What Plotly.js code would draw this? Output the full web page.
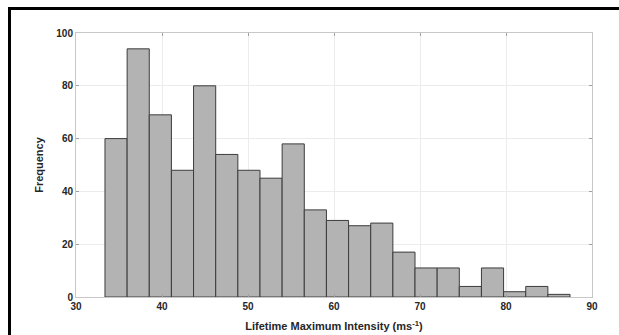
<!DOCTYPE html>
<html>
<head>
<meta charset="utf-8">
<script src="https://cdn.plot.ly/plotly-3.0.1.min.js"></script>
<style>
html,body{margin:0;padding:0;background:#fff;}
#wrap{position:relative;width:619px;height:335px;overflow:hidden;}
#chart{position:absolute;left:0;top:0;width:619px;height:335px;}
#frame{position:absolute;left:8px;top:7px;width:700px;height:400px;border-top:3px solid #000;border-left:3px solid #000;pointer-events:none;}
</style>
</head>
<body>
<div id="wrap"><div id="chart"></div><div id="frame"></div></div>
<script>
// Histogram data
var binStart = 33.37;
var binWidth = 2.575;
var counts = [60, 94, 69, 48, 80, 54, 48, 45, 58, 33, 29, 27, 28, 17, 11, 11, 4, 11, 2, 4, 1];
var xTicks = [30, 40, 50, 60, 70, 80, 90];
var yTicks = [0, 20, 40, 60, 80, 100];

var centers = counts.map(function(c, i){ return binStart + binWidth * (i + 0.5); });

var trace = {
  type: 'bar',
  x: centers,
  y: counts,
  width: binWidth,
  marker: {color: '#b3b3b3', line: {color: '#3c3c3c', width: 1}},
  hoverinfo: 'x+y'
};

var axisCommon = {
  showline: true, linecolor: '#c8c8c8', linewidth: 1, mirror: 'ticks',
  ticks: 'inside', ticklen: 3, tickcolor: '#a0a0a0', tickwidth: 1,
  showgrid: true, gridcolor: '#ececec', gridwidth: 1,
  zeroline: false,
  tickfont: {family: 'Liberation Sans, Arial, sans-serif', size: 10, color: '#262626', weight: 'bold'}
};

var layout = {
  width: 619, height: 335,
  margin: {l: 76, r: 27, t: 33, b: 38},
  paper_bgcolor: '#fff', plot_bgcolor: '#fff',
  showlegend: false,
  bargap: 0,
  xaxis: Object.assign({}, axisCommon, {
    range: [30, 90], tickvals: xTicks, ticktext: xTicks.map(String),
    title: {text: 'Lifetime Maximum Intensity (ms<sup>-1</sup>)', standoff: 11,
      font: {family: 'Liberation Sans, Arial, sans-serif', size: 11, color: '#262626', weight: 'bold'}}
  }),
  yaxis: Object.assign({}, axisCommon, {
    range: [0, 100], tickvals: yTicks, ticktext: yTicks.map(String),
    title: {text: 'Frequency', standoff: 10,
      font: {family: 'Liberation Sans, Arial, sans-serif', size: 11, color: '#262626', weight: 'bold'}}
  })
};

Plotly.newPlot('chart', [trace], layout, {displayModeBar: false, staticPlot: true});
</script>
</body>
</html>
